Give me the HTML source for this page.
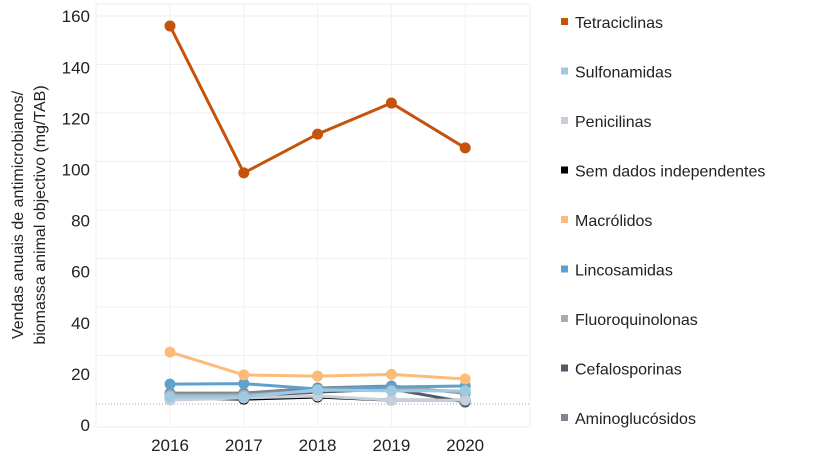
<!DOCTYPE html>
<html><head><meta charset="utf-8"><style>
body{margin:0;background:#fff;font-family:"Liberation Sans",sans-serif;}
svg text{font-family:"Liberation Sans",sans-serif;}
</style></head><body>
<svg id="chart" width="820" height="461" viewBox="0 0 820 461" xmlns="http://www.w3.org/2000/svg"></svg>
<script>
const years=[2016,2017,2018,2019,2020];
const yTicks=[0,20,40,60,80,100,120,140,160];
const seriesNames=["Tetraciclinas","Sulfonamidas","Penicilinas","Sem dados independentes","Macrólidos","Lincosamidas","Fluoroquinolonas","Cefalosporinas","Aminoglucósidos"];
const seriesColors=["#c4540c","#9ecae1","#c6cfdb","#000000","#fdbb7a","#5fa0cc","#a3acb7","#505a68","#7d8591"];
const tetraciclinas=[155.9,95.3,111.3,124.1,105.6];
const sulfonamidas=[2.9,2.9,5.8,5.4,5.4];
const penicilinas=[1.6,2.5,3.3,1.6,1.6];
const semDados=[2.5,2.0,2.9,1.6,1.6];
const macrolidos=[21.4,12.0,11.5,12.2,10.3];
const lincosamidas=[8.2,8.4,6.2,7.0,7.4];
const fluoroquinolonas=[3.7,3.7,5.4,6.6,5.0];
const cefalosporinas=[3.3,3.3,4.9,6.2,0.8];
const aminoglucosidos=[4.5,4.5,6.6,7.4,4.5];
const allSeries=[tetraciclinas,sulfonamidas,penicilinas,semDados,macrolidos,lincosamidas,fluoroquinolonas,cefalosporinas,aminoglucosidos];
const NS="http://www.w3.org/2000/svg";
const svg=document.getElementById('chart');
function mk(t,a){const e=document.createElementNS(NS,t);for(const k in a)e.setAttribute(k,a[k]);return e;}
const x=i=>170+i*73.8;
const y=v=>404-v*2.425;
const labelY=i=>425-i*51.1;
// frame
const frame=mk('rect',{x:96,y:4,width:434,height:423,fill:'none',stroke:'#ececec'});


svg.appendChild(frame);
yTicks.forEach((t,i)=>{
 if(t>0){const g=mk('line',{x1:96,x2:530,y1:y(t),y2:y(t),stroke:'#efefef'});
 
 
 svg.appendChild(g);}
 const l=mk('text',{x:90,y:labelY(i)+6,'text-anchor':'end','font-size':17,fill:'#222'});
 l.textContent=t;
 
 
 svg.appendChild(l);
});
years.forEach((yr,i)=>{
 const g=mk('line',{x1:x(i),x2:x(i),y1:4,y2:427,stroke:'#f2f2f2'});
 
 
 svg.appendChild(g);
 const l=mk('text',{x:x(i),y:451,'text-anchor':'middle','font-size':17,fill:'#222'});
 l.textContent=yr;
 
 
 svg.appendChild(l);
});
const zero=mk('line',{x1:96,x2:530,y1:y(0),y2:y(0),stroke:'#aaa','stroke-dasharray':'1,2'});


svg.appendChild(zero);
const yt=mk('text',{transform:'translate(23,215) rotate(-90)','text-anchor':'middle','font-size':16,fill:'#222'});


const t1=mk('tspan',{x:0,dy:0});t1.textContent='Vendas anuais de antimicrobianos/';
const t2=mk('tspan',{x:0,dy:22});t2.textContent='biomassa animal objectivo (mg/TAB)';
yt.appendChild(t1);yt.appendChild(t2);svg.appendChild(yt);
const order=[8,7,6,5,4,3,2,1,0];
order.forEach(s=>{
 const d=allSeries[s];
 const p=mk('polyline',{points:d.map((v,i)=>x(i)+','+y(v)).join(' '),fill:'none',stroke:seriesColors[s],'stroke-width':3});
 
 
 svg.appendChild(p);
 d.forEach((v,i)=>{
  const c=mk('circle',{cx:x(i),cy:y(v),r:5.5,fill:seriesColors[s]});
  
  
  svg.appendChild(c);
 });
});
seriesNames.forEach((n,i)=>{
 const yy=22+i*49.5;
 const r=mk('rect',{x:561,y:yy-4,width:7,height:7,fill:seriesColors[i]});
 
 
 svg.appendChild(r);
 const t=mk('text',{x:575,y:yy+6,'font-size':16,fill:'#222'});
 t.textContent=n;
 
 
 svg.appendChild(t);
});
</script>
</body></html>
